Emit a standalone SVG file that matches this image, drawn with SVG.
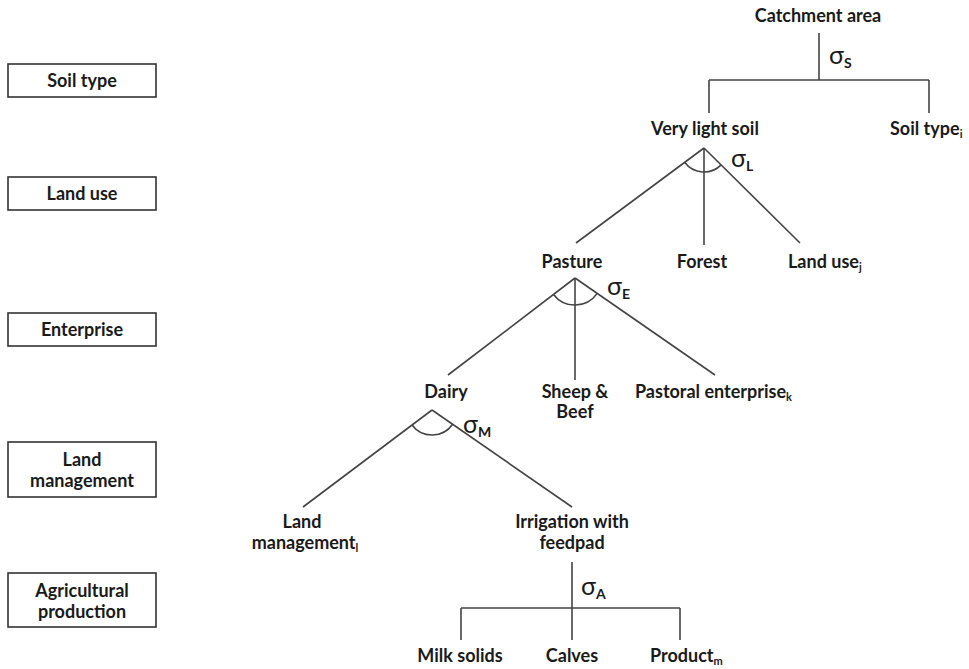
<svg xmlns="http://www.w3.org/2000/svg" width="969" height="669" viewBox="0 0 969 669">
<style>
text{font-family:Lato,"Open Sans","Liberation Sans",sans-serif;font-size:18px;fill:#1a1a1a;font-weight:bold}
.c{text-anchor:middle}
.sg{font-size:25px;font-weight:normal}
.ss{font-size:14px;font-weight:bold}
.sub{font-size:11px}
.box{fill:#fff;stroke:#333;stroke-width:1.6}
#connectors line,#connectors path{stroke:#444;stroke-width:1.6;fill:none}
</style>
<rect width="969" height="669" fill="#fff"/>
<g id="levels">
<g id="lvl-soil"><rect class="box" x="8" y="64" width="148" height="33"/><text class="c" x="82" y="87">Soil type</text></g>
<g id="lvl-landuse"><rect class="box" x="8" y="177" width="148" height="33"/><text class="c" x="82" y="200">Land use</text></g>
<g id="lvl-enterprise"><rect class="box" x="8" y="313" width="148" height="33"/><text class="c" x="82" y="336">Enterprise</text></g>
<g id="lvl-mgmt"><rect class="box" x="8" y="442" width="148" height="55"/><text class="c" x="82" y="466">Land</text><text class="c" x="82" y="487">management</text></g>
<g id="lvl-prod"><rect class="box" x="8" y="573" width="148" height="54"/><text class="c" x="82" y="597">Agricultural</text><text class="c" x="82" y="618">production</text></g>
</g>
<g id="connectors">
<line x1="819" y1="33" x2="819" y2="80"/>
<line x1="709" y1="80" x2="929" y2="80"/>
<line x1="709" y1="80" x2="709" y2="113"/>
<line x1="929" y1="80" x2="929" y2="113"/>
<line x1="704" y1="148" x2="576" y2="243"/>
<line x1="704" y1="148" x2="704" y2="245"/>
<line x1="704" y1="148" x2="800" y2="243"/>
<path d="M684.7,162.3 A24,24 0 0 0 721.1,164.9"/>
<line x1="575" y1="278" x2="448" y2="375"/>
<line x1="575" y1="278" x2="575" y2="380"/>
<line x1="575" y1="278" x2="715" y2="375"/>
<path d="M553.5,294.4 A27,27 0 0 0 597.2,293.4"/>
<line x1="432" y1="410" x2="303" y2="507"/>
<line x1="432" y1="410" x2="572" y2="507"/>
<path d="M412,425 A25,25 0 0 0 452.6,424.2"/>
<line x1="572" y1="562" x2="572" y2="640"/>
<line x1="461" y1="608" x2="680" y2="608"/>
<line x1="461" y1="608" x2="461" y2="640"/>
<line x1="680" y1="608" x2="680" y2="640"/>
</g>
<g id="sigmas">
<text class="sg" x="829" y="64">σ<tspan class="ss" dy="4">S</tspan></text>
<text class="sg" x="731" y="167">σ<tspan class="ss" dy="4">L</tspan></text>
<text class="sg" x="607" y="295">σ<tspan class="ss" dy="4">E</tspan></text>
<text class="sg" x="463" y="433">σ<tspan class="ss" dy="4">M</tspan></text>
<text class="sg" x="581" y="595">σ<tspan class="ss" dy="4">A</tspan></text>
</g>
<g id="n-catchment"><text class="c" x="818" y="22">Catchment area</text></g>
<g id="n-verylight"><text class="c" x="705" y="135">Very light soil</text></g>
<g id="n-soiltype"><text x="890" y="135">Soil type<tspan class="sub" dy="3">i</tspan></text></g>
<g id="n-pasture"><text class="c" x="572" y="268">Pasture</text></g>
<g id="n-forest"><text class="c" x="702" y="268">Forest</text></g>
<g id="n-landuse"><text x="788" y="268">Land use<tspan class="sub" dy="3">j</tspan></text></g>
<g id="n-dairy"><text class="c" x="446" y="398">Dairy</text></g>
<g id="n-sheep"><text class="c" x="575" y="398">Sheep &amp;</text><text class="c" x="575" y="418">Beef</text></g>
<g id="n-pastoral"><text x="635" y="398">Pastoral enterprise<tspan class="sub" dy="3">k</tspan></text></g>
<g id="n-landmgmt"><text class="c" x="302" y="528">Land</text><text class="c" x="305" y="549">management<tspan class="sub" dy="3">l</tspan></text></g>
<g id="n-irrigation"><text class="c" x="572" y="528">Irrigation with</text><text class="c" x="572" y="549">feedpad</text></g>
<g id="n-milk"><text class="c" x="460" y="662">Milk solids</text></g>
<g id="n-calves"><text class="c" x="572" y="662">Calves</text></g>
<g id="n-product"><text x="650" y="662">Product<tspan class="sub" dy="3">m</tspan></text></g>
</svg>
